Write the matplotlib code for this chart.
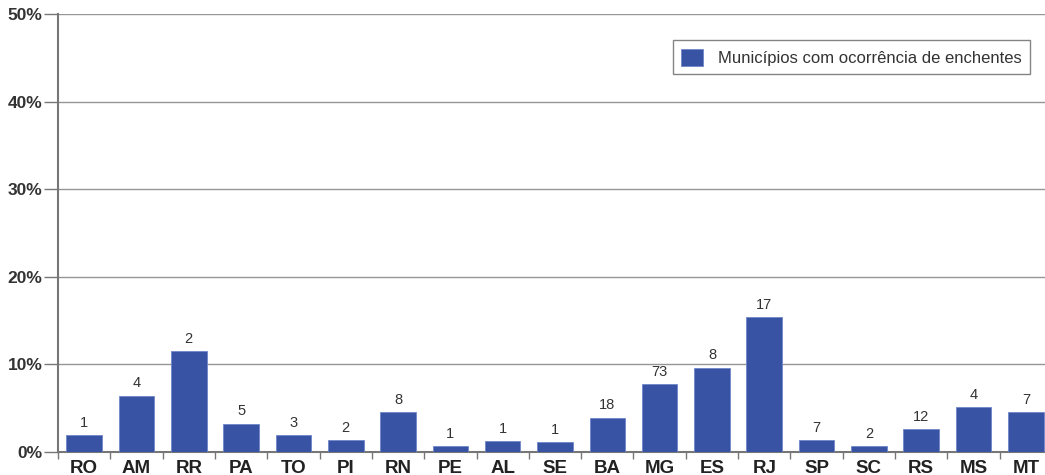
import matplotlib
matplotlib.use("Agg")
import matplotlib.pyplot as plt
import numpy as np

states = ["RO", "AM", "RR", "PA", "TO", "PI", "RN", "PE", "AL", "SE",
          "BA", "MG", "ES", "RJ", "SP", "SC", "RS", "MS", "MT"]
percent = [1.9, 6.4, 11.5, 3.2, 1.9, 1.3, 4.5, 0.65, 1.2, 1.1,
           3.9, 7.7, 9.6, 15.4, 1.3, 0.65, 2.6, 5.1, 4.5]
counts = ["1", "4", "2", "5", "3", "2", "8", "1", "1", "1",
          "18", "73", "8", "17", "7", "2", "12", "4", "7"]
y_ticks = [0, 10, 20, 30, 40, 50]
legend_label = "Municípios com ocorrência de enchentes"

plt.rcParams['font.family'] = ['Liberation Sans', 'DejaVu Sans']

fig = plt.figure(figsize=(10.45, 4.75), dpi=100)
ax = fig.add_axes([58/1045, 23.3/475, (1052-58)/1045, (451.7-14)/475])

x = np.arange(len(states))
bar_color = "#3852a4"
bars = ax.bar(x, percent, width=0.68, color=bar_color, edgecolor="#6f86c8",
              linewidth=0.6, zorder=3, label=legend_label)
for xi, v, c in zip(x, percent, counts):
    ax.text(xi, v + 0.6, c, ha="center", va="bottom", fontsize=10.5, color="#333333")

ax.set_xlim(-0.5, len(states) - 0.5)
ax.set_ylim(0, 50)
ax.set_yticks(y_ticks)
ax.set_yticklabels([f"{t}%" for t in y_ticks], fontsize=12.5, fontweight="bold", color="#333333")
ax.yaxis.grid(True, color="#959595", linewidth=1.0, zorder=0)
ax.tick_params(axis="y", length=10, width=1.0, color="#777777", pad=1)

ax.set_xticks(x)
ax.set_xticklabels(states, fontsize=13.5, fontweight="bold", color="#222222")
ax.set_xticks(np.arange(-0.5, len(states), 1.0), minor=True)
ax.tick_params(axis="x", which="major", length=0, pad=6)
ax.tick_params(axis="x", which="minor", length=5, width=1.0, color="#777777", direction="out")

for s in ["top", "right"]:
    ax.spines[s].set_visible(False)
ax.spines["left"].set_color("#777777")
ax.spines["left"].set_linewidth(1.5)
ax.spines["bottom"].set_color("#777777")
ax.spines["bottom"].set_linewidth(1.5)

leg = ax.legend(loc="upper right", bbox_to_anchor=(0.978, 0.94), borderaxespad=0,
                fontsize=12, frameon=True, fancybox=False, edgecolor="#666666",
                handlelength=1.3, handleheight=1.2, borderpad=0.5, handletextpad=0.9)
leg.get_frame().set_linewidth(1.0)
for t in leg.get_texts():
    t.set_color("#333333")

fig.savefig("out.png", dpi=100)
